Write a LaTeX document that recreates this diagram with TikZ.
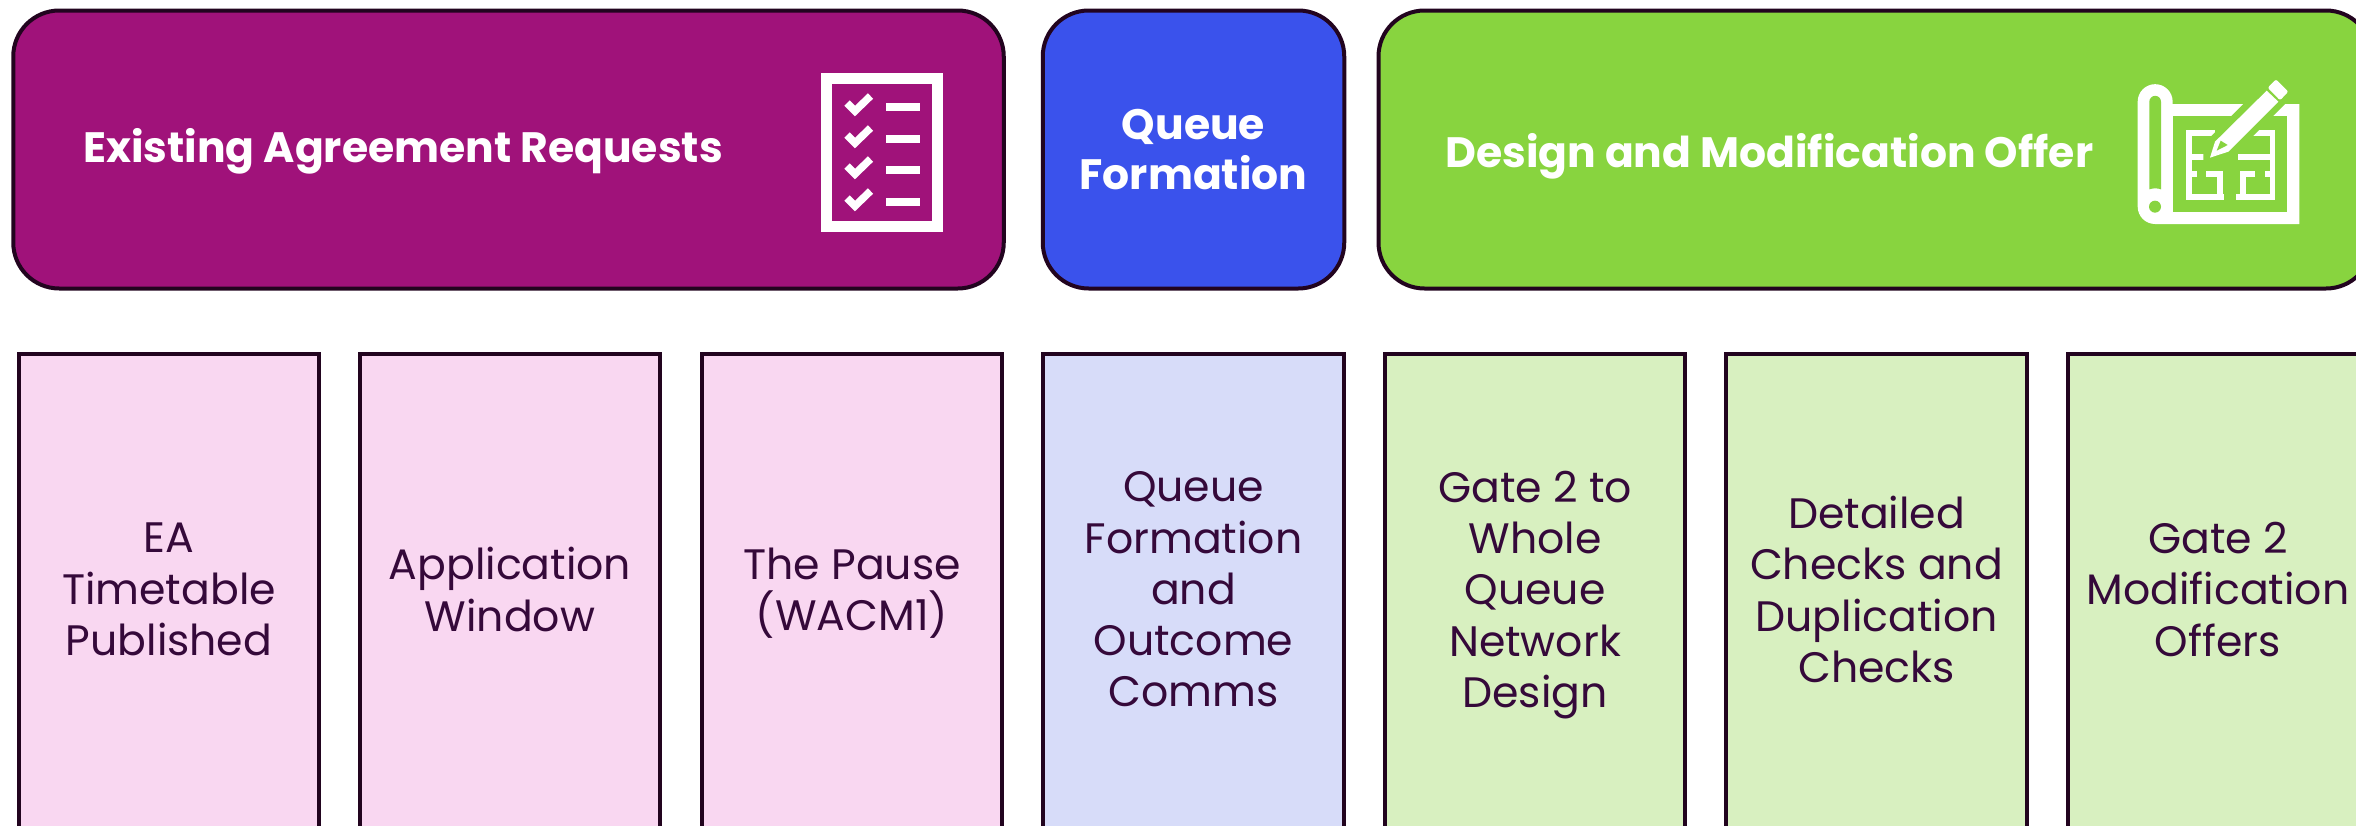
\documentclass[tikz,border=0pt]{standalone}
\usepackage{fontspec}
\setmainfont{Poppins}
\usepackage{xcolor}
\usepackage{tikz}
\usetikzlibrary{positioning}
\definecolor{inkdark}{HTML}{22041F}
\definecolor{textdark}{HTML}{35093A}
\definecolor{eapurple}{HTML}{A0127A}
\definecolor{eapink}{HTML}{F9D7F1}
\definecolor{qfblue}{HTML}{3A52EC}
\definecolor{qfpale}{HTML}{D7DCF9}
\definecolor{dmgreen}{HTML}{88D43F}
\definecolor{dmpale}{HTML}{D8F0C0}
\tikzset{
	banner/.style={
			draw=inkdark, line width=4pt, rounded corners=46pt, inner sep=0pt,
			minimum height=278pt, text=white, align=center,
			font=\fontsize{42.5}{50}\selectfont\bfseries
		},
	bannertext/.style={
			inner sep=0pt, text=white,
			font=\fontsize{42.5}{50}\selectfont\bfseries
		},
	stagebox/.style={
			draw=inkdark, line width=4pt, inner sep=0pt, text=textdark, align=center,
			minimum width=300.5pt, minimum height=487pt,
			font=\fontsize{42.6}{51.3}\selectfont,
			execute at begin node=\strut, execute at end node=\strut
		}
}

\begin{document}
\begin{tikzpicture}[x=1pt, y=1pt]

  \useasboundingbox (0,0) rectangle (2356,-825);

  \node[banner, fill=eapurple, minimum width=990.5pt] (existing) at (508.5,-149.5) {};
  \node[banner, fill=qfblue, minimum width=301.5pt] (queue) at (1193.5,-149.5) {Queue\\Formation};
  \node[banner, fill=dmgreen, minimum width=993.5pt] (design) at (1875.25,-149.5) {};

  \node[bannertext, anchor=west] (existingtext) at (83,-151.5) {Existing Agreement Requests};
  \node[bannertext, anchor=west] (designtext) at (1445,-156.5) {Design and Modification Offer};

  \node[stagebox, fill=eapink] (timetable) at (169,-597) {EA\\Timetable\\Published};
  \node[stagebox, fill=eapink] (window) at (510,-597) {Application\\Window};
  \node[stagebox, fill=eapink] (pause) at (852,-597) {The Pause\\(WACM1)};
  \node[stagebox, fill=qfpale] (outcome) at (1193.5,-597) {Queue\\Formation\\and\\Outcome\\Comms};
  \node[stagebox, fill=dmpale] (gate) at (1535,-597) {Gate 2 to\\Whole\\Queue\\Network\\Design};
  \node[stagebox, fill=dmpale] (checks) at (1876.5,-597) {Detailed\\Checks and\\Duplication\\Checks};
  \node[stagebox, fill=dmpale] (offers) at (2218,-597) {Gate 2\\Modification\\Offers};

  % checklist icon
  \draw[white, line width=11pt] (826.5,-78.5) rectangle (937.5,-226.5);
  \foreach \y in {107,139,170,202}{
    \draw[white, line width=7.5pt] (847,-\y+4) -- (855,-\y-4) -- (870.5,-\y+11);
    \fill[white] (886,-\y+4) rectangle (920,-\y-4);
  }

  % blueprint icon
  \begin{scope}[shift={(2100,-50)}, scale=1/3, line width=5.7pt]
    \fill[white] (113,-155) arc (180:0:52.5) -- (218,-162) -- (598,-162) -- (598,-522)
      -- (165,-522) arc (270:180:52) -- cycle;
    \fill[dmgreen] (148,-155) arc (180:0:17.5) -- (183,-418) .. controls (172,-414) and (160,-414) .. (148,-418) -- cycle;
    \fill[dmgreen] (165,-470) circle (18);
    \fill[dmgreen] (218,-197) rectangle (562,-487);
    \draw[white] (345,-250) -- (266,-250) -- (266,-440) -- (372,-440);
    \draw[white] (266,-320) -- (312,-320);
    \draw[white] (266,-373) -- (290,-373);
    \draw[white] (318,-373) -- (360,-373) -- (360,-440);
    \draw[white] (460,-250) -- (517,-250) -- (517,-440) -- (408,-440);
    \draw[white] (415,-320) -- (517,-320);
    \draw[white] (495,-373) -- (517,-373);
    \draw[white] (465,-373) -- (428,-373) -- (428,-440);
    \fill[dmgreen] (430,-162) -- (310,-282) -- (310,-345) -- (395,-322) -- (555,-162) -- cycle;
    \fill[white] (330,-323) -- (345,-275) -- (500,-122) -- (535,-155) -- (385,-305) -- cycle;
    \fill[dmgreen] (350,-302) -- (362,-272) -- (383,-285) -- cycle;
    \fill[white, rounded corners=2pt] (503,-113) -- (528,-88) -- (565,-125) -- (540,-151) -- cycle;
  \end{scope}

\end{tikzpicture}
\end{document}
